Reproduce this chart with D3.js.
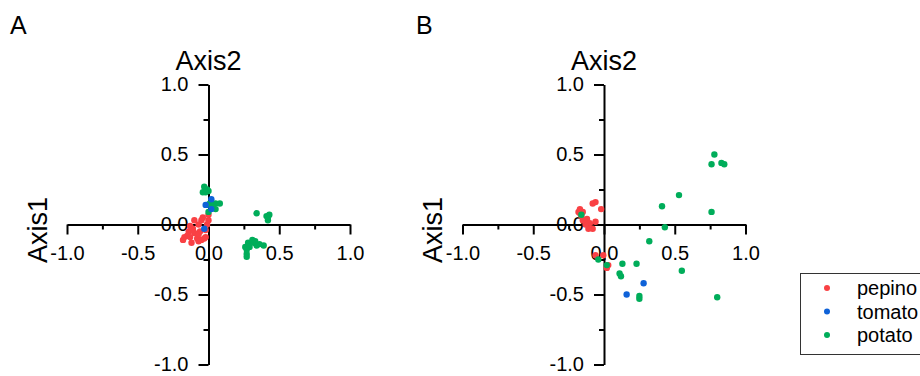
<!DOCTYPE html>
<html>
<head>
<meta charset="utf-8">
<script src="https://cdn.jsdelivr.net/npm/d3@7"></script>
<style>
  body { margin: 0; background: #fff; }
  svg { display: block; font-family: "Liberation Sans", Arial, sans-serif; }
</style>
</head>
<body>
<div id="chart"></div>
<script>
const species = ['pepino', 'tomato', 'potato'];
const colors = { pepino: '#f94144', tomato: '#0f62d8', potato: '#00ad5a' };
const majorTicks = [-1, -0.5, 0, 0.5, 1];
const minorTicks = [-0.75, -0.25, 0.25, 0.75];

// panel A, [axis1, axis2] per point
const pepinoA = [
  [-0.04, 0.05], [-0.05, 0.03], [-0.10, 0.03], [-0.07, 0.00], [-0.11, -0.03],
  [-0.14, -0.05], [-0.15, -0.08], [-0.13, -0.09], [-0.08, -0.10], [-0.05, -0.11],
  [-0.02, -0.09], [-0.06, -0.05], [-0.10, -0.06], [-0.12, -0.04], [-0.01, 0.00],
  [0.00, 0.03], [-0.07, -0.12], [-0.17, -0.09], [-0.02, -0.04], [-0.18, -0.11],
  [-0.12, -0.13], [-0.07, -0.07], [-0.03, -0.10], [-0.13, -0.01], [0.00, 0.07]
];
const tomatoA = [[0.02, 0.18], [-0.02, 0.14], [0.02, 0.11], [-0.03, -0.03]];
const potatoA = [
  [-0.03, 0.27], [-0.01, 0.25], [-0.04, 0.23], [-0.02, 0.23], [0.00, 0.24],
  [0.01, 0.15], [0.05, 0.15], [0.08, 0.15], [0.05, 0.11], [-0.01, 0.14],
  [0.00, 0.09], [0.03, 0.13],
  [0.34, 0.08], [0.41, 0.06], [0.43, 0.07], [0.42, 0.03], [0.42, 0.05],
  [0.26, -0.16], [0.27, -0.18], [0.28, -0.13], [0.31, -0.11], [0.32, -0.13],
  [0.34, -0.15], [0.36, -0.14], [0.39, -0.15], [0.27, -0.21], [0.29, -0.16],
  [0.33, -0.12], [0.27, -0.23]
];

// panel B
const pepinoB = [
  [-0.06, 0.16], [-0.08, 0.15], [-0.02, 0.11], [-0.17, 0.11], [-0.15, 0.09],
  [-0.16, 0.06], [-0.12, 0.04], [-0.10, 0.01], [-0.06, 0.02], [-0.08, -0.03],
  [-0.11, -0.03], [-0.13, 0.00], [-0.06, -0.22], [-0.005, -0.22], [0.02, -0.31],
  [0.03, -0.29], [-0.18, 0.09], [-0.17, 0.08], [-0.15, 0.03]
];
const tomatoB = [[0.16, -0.50], [0.28, -0.42]];
const potatoB = [
  [0.78, 0.50], [0.76, 0.43], [0.83, 0.44], [0.85, 0.43], [0.53, 0.21],
  [0.41, 0.13], [0.76, 0.09], [0.43, -0.02], [0.32, -0.12], [0.23, -0.28],
  [0.13, -0.28], [0.11, -0.35], [0.12, -0.37], [0.55, -0.33], [0.25, -0.51],
  [0.25, -0.53], [0.80, -0.52], [-0.04, -0.25], [0.02, -0.29], [-0.16, 0.07]
];

const panels = [
  { letter: 'A', left: 67, letterX: 10, titleX: 37, data: { pepino: pepinoA, potato: potatoA, tomato: tomatoA } },
  { letter: 'B', left: 462.5, letterX: 416, titleX: 432, data: { pepino: pepinoB, potato: potatoB, tomato: tomatoB } }
];

const width = 920, height = 376;
const svg = d3.select('#chart').append('svg')
  .attr('width', width)
  .attr('height', height);

// plain hyphen as minus, like the original figure
const locale = d3.formatLocale({ decimal: '.', thousands: ',', grouping: [3], currency: ['', ''], minus: '-' });
const fmt = locale.format('.1f');
const y = d3.scaleLinear().domain([-1, 1]).range([364.5, 84.5]);

panels.forEach(p => {
  const x = d3.scaleLinear().domain([-1, 1]).range([p.left, p.left + 283]);
  const g = svg.append('g');

  // minor ticks
  g.append('g')
    .attr('transform', `translate(0,${y(0)})`)
    .call(d3.axisBottom(x).tickValues(minorTicks).tickSize(5).tickFormat(''))
    .call(a => a.select('.domain').remove());
  g.append('g')
    .attr('transform', `translate(${x(0)},0)`)
    .call(d3.axisLeft(y).tickValues(minorTicks).tickSize(5).tickFormat(''))
    .call(a => a.select('.domain').remove());

  g.append('g')
    .attr('transform', `translate(0,${y(0)})`)
    .call(d3.axisBottom(x).tickValues(majorTicks).tickSize(10).tickSizeOuter(0).tickPadding(11).tickFormat(fmt));
  g.append('g')
    .attr('transform', `translate(${x(0)},0)`)
    .call(d3.axisLeft(y).tickValues(majorTicks).tickSize(10).tickSizeOuter(0).tickPadding(10).tickFormat(fmt));

  g.selectAll('.domain, .tick line').attr('stroke', '#000').attr('stroke-width', 2);
  g.selectAll('.tick text')
    .attr('font-family', '"Liberation Sans", Arial, sans-serif')
    .attr('font-size', 20)
    .attr('fill', '#000');

  // points
  ['pepino', 'potato', 'tomato'].forEach(s => {
    g.selectAll(null)
      .data(p.data[s])
      .enter()
      .append('circle')
      .attr('cx', d => x(d[0]))
      .attr('cy', d => y(d[1]))
      .attr('r', 3.2)
      .attr('fill', colors[s]);
  });

  svg.append('text')
    .attr('x', p.letterX)
    .attr('y', 34)
    .attr('font-size', 25)
    .text(p.letter);

  svg.append('text')
    .attr('x', x(0))
    .attr('y', 70)
    .attr('text-anchor', 'middle')
    .attr('font-size', 27)
    .text('Axis2');

  svg.append('text')
    .attr('transform', `translate(${p.titleX + 10},230) rotate(-90)`)
    .attr('text-anchor', 'middle')
    .attr('font-size', 27)
    .text('Axis1');
});

// legend
const legend = svg.append('g').attr('transform', 'translate(800,273)');
legend.append('rect')
  .attr('x', 0.5).attr('y', 0.5)
  .attr('width', 140).attr('height', 81)
  .attr('fill', 'none')
  .attr('stroke', '#333')
  .attr('stroke-width', 1);
species.forEach((s, i) => {
  const cy = 15 + i * 23.5;
  legend.append('circle')
    .attr('cx', 27).attr('cy', cy).attr('r', 3)
    .attr('fill', colors[s]);
  legend.append('text')
    .attr('x', 57).attr('y', cy)
    .attr('dy', '0.35em')
    .attr('font-size', 20)
    .text(s);
});
</script>
</body>
</html>
